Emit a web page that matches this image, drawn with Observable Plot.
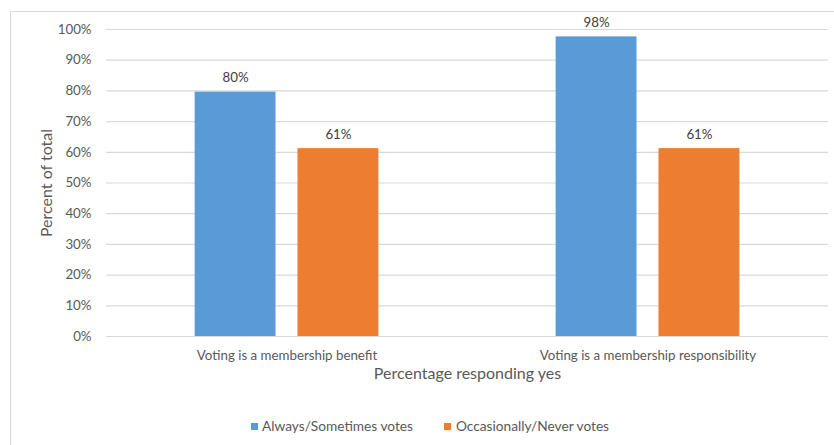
<!DOCTYPE html>
<html>
<head>
<meta charset="utf-8">
<script src="https://cdn.jsdelivr.net/npm/d3@7"></script>
<script src="https://cdn.jsdelivr.net/npm/@observablehq/plot@0.6"></script>
<style>
  body { margin: 0; background: #fff; }
  #wrap { position: relative; width: 834px; height: 445px; overflow: hidden; font-family: Lato, "Open Sans", sans-serif; }
  #frame { position: absolute; left: 10px; top: 11px; width: 840px; height: 460px; border: 1.5px solid #d9d9d9; box-sizing: border-box; }
  #chart { position: absolute; left: 0; top: 0; }
  .leg { position: absolute; top: 416px; font-size: 13.7px; color: #595959; line-height: 20px; white-space: nowrap; }
  .sw { position: absolute; width: 7px; height: 7px; top: 423px; }
</style>
</head>
<body>
<div id="wrap">
  <div id="frame"></div>
  <div id="chart"></div>
  <div id="legend"></div>
</div>
<script>
const groups = ["Voting is a membership benefit", "Voting is a membership responsibility"];
const series = ["Always/Sometimes votes", "Occasionally/Never votes"];
const alwaysValues = [79.6, 97.6];
const occasionallyValues = [61.2, 61.2];
const valueLabels = [["80%", "98%"], ["61%", "61%"]];
const colors = ["#5B9BD5", "#ED7D31"];
const yTicks = [0, 10, 20, 30, 40, 50, 60, 70, 80, 90, 100];

const seriesValues = [alwaysValues, occasionallyValues];
const rows = [];
groups.forEach((g, gi) => {
  series.forEach((s, si) => {
    rows.push({group: g, series: s, value: seriesValues[si][gi], label: valueLabels[si][gi]});
  });
});

const chart = Plot.plot({
  width: 834,
  height: 400,
  marginTop: 29,
  marginBottom: 64,
  marginLeft: 105,
  marginRight: 6,
  style: {fontFamily: "Lato, 'Open Sans', sans-serif", fontSize: "13.3px", color: "#595959", background: "transparent"},
  fx: {domain: groups, padding: 0, label: "Percentage responding yes", labelAnchor: "center", labelArrow: "none", labelOffset: 42, tickSize: 0, tickPadding: 14},
  x: {domain: series, paddingInner: 0.2136, paddingOuter: 0.8617, axis: null, round: false},
  y: {domain: [0, 100], ticks: yTicks, tickFormat: d => d + "%", tickSize: 0, tickPadding: 15, label: "Percent of total", labelAnchor: "center", labelArrow: "none", labelOffset: 66},
  color: {domain: series, range: colors},
  marks: [
    Plot.ruleY(yTicks, {y: d => d, stroke: "#d9d9d9", strokeWidth: 1.2}),
    Plot.barY(rows, {fx: "group", x: "series", y: "value", fill: "series"}),
    Plot.text(rows, {fx: "group", x: "series", y: "value", text: "label", dy: -14, fill: "#404040", fontSize: 13.3})
  ]
});
d3.select(chart).selectAll('g[aria-label$="axis label"]').attr("font-size", "16px").attr("fill", "#595959");
document.getElementById("chart").appendChild(chart);

const legendPos = [{sw: 251, tx: 262}, {sw: 444, tx: 456}];
const leg = document.getElementById("legend");
series.forEach((s, i) => {
  const sw = document.createElement("div");
  sw.className = "sw";
  sw.style.left = legendPos[i].sw + "px";
  sw.style.background = colors[i];
  leg.appendChild(sw);
  const t = document.createElement("div");
  t.className = "leg";
  t.style.left = legendPos[i].tx + "px";
  t.textContent = s;
  leg.appendChild(t);
});
</script>
</body>
</html>
